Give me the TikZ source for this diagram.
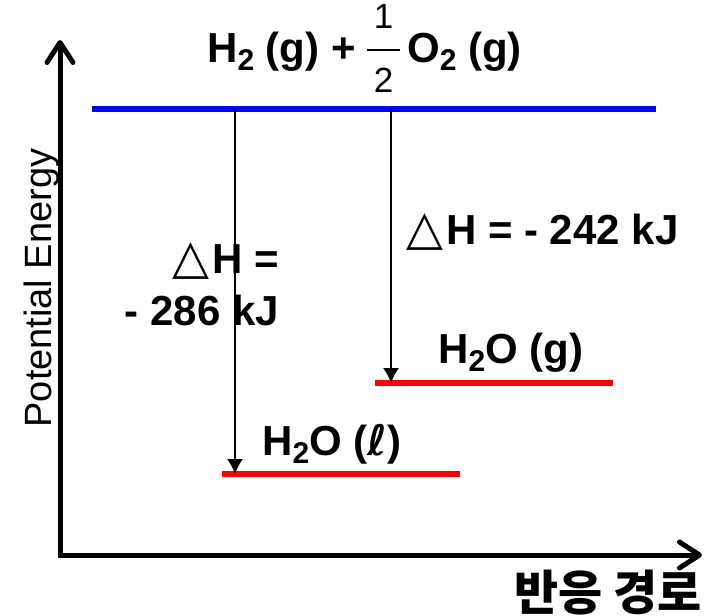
\documentclass[tikz,border=0pt]{standalone}
\usepackage{fontspec}
\setmainfont{Liberation Sans}
\newfontfamily\dvfont{DejaVu Sans}
\newfontfamily\krfont{Noto Sans CJK KR}
\usetikzlibrary{arrows.meta}
\definecolor{eblue}{RGB}{0,0,255}
\definecolor{ered}{RGB}{255,0,0}
\newcommand\sbs[1]{\raisebox{-8pt}{\fontsize{30}{30}\selectfont #1}}
\newcommand\tri{{\dvfont\mdseries\fontsize{48}{48}\selectfont △}\kern3pt}
\begin{document}
\begin{tikzpicture}[x=1pt,y=-1pt,
  lbl/.style={inner sep=0pt,font=\fontsize{42}{50}\selectfont\bfseries},
  axis/.style={line width=5pt,{Straight Barb[length=20pt,width=26pt,line cap=round,line join=round]}-{Straight Barb[length=20pt,width=26pt,line cap=round,line join=round]}},
  level/.style={line width=5.5pt},
  dharrow/.style={line width=1.6pt,-{Latex[length=15pt,width=16pt]}}]
\useasboundingbox (0,0) rectangle (705,616);
% axes
\coordinate (ytop) at (60,40);
\coordinate (orig) at (60,555);
\coordinate (xend) at (702,555);
\draw[axis] (ytop) -- (orig) -- (xend);
% levels
\coordinate (bl) at (92,109);
\coordinate (br) at (656,109);
\coordinate (gl) at (375,383);
\coordinate (gr) at (613,383);
\coordinate (ll) at (222,474);
\coordinate (lr) at (460,474);
\draw[level,eblue] (bl) -- (br);
\draw[level,ered] (gl) -- (gr);
\draw[level,ered] (ll) -- (lr);
% arrows
\coordinate (a1s) at (235,109);
\coordinate (a1e) at (235,474);
\coordinate (a2s) at (391,109);
\coordinate (a2e) at (391,383);
\draw[dharrow] (a1s) -- (a1e);
\draw[dharrow] (a2s) -- (a2e);
% top formula
\node[lbl,anchor=base west] (hpart) at (207,62) {H\sbs{2} (g) +};
\node[inner sep=0pt,anchor=base,font=\fontsize{35}{35}\selectfont] (num) at (383.5,28) {1};
\node[inner sep=0pt,anchor=base,font=\fontsize{35}{35}\selectfont] (den) at (383.5,92) {2};
\coordinate (fb1) at (367,50);
\coordinate (fb2) at (400,50);
\draw[line width=2.5pt] (fb1) -- (fb2);
\node[lbl,anchor=base west] (opart) at (407,62) {O\sbs{2} (g)};
% labels
\node[lbl,anchor=base east] (dh1a) at (279,273) {\tri H =};
\node[lbl,anchor=base east] (dh1b) at (279,325) {- 286 kJ};
\node[lbl,anchor=base west] (dh2) at (406,244) {\tri H = - 242 kJ};
\node[lbl,anchor=base west] (h2og) at (438,363) {H\sbs{2}O (g)};
\node[lbl,anchor=base west] (h2ol) at (262,455) {H\sbs{2}O ({\dvfont\bfseries\itshape ℓ})};
\node[inner sep=0pt,anchor=base,rotate=90,font=\fontsize{38}{38}\selectfont] (ylab) at (52,288) {Potential Energy};
\node[inner sep=0pt,anchor=base east,font=\krfont\bfseries\fontsize{48}{48}\selectfont] (xlab) at (702,610) {반응 경로};
\end{tikzpicture}
\end{document}
